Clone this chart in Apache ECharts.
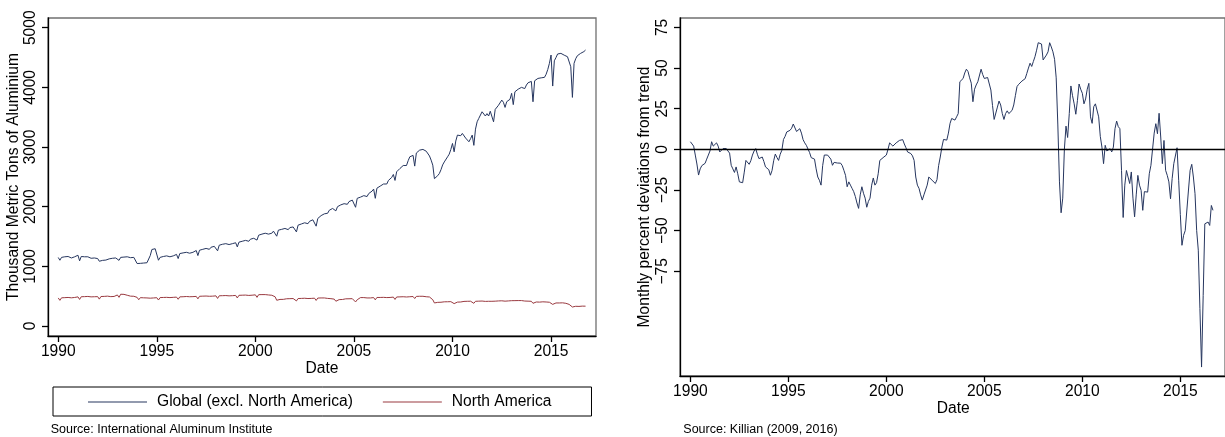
<!DOCTYPE html>
<html>
<head>
<meta charset="utf-8">
<script src="https://cdn.jsdelivr.net/npm/echarts/dist/echarts.min.js"></script>
<style>
html,body{margin:0;padding:0;background:#fff;}
#chart{width:1225px;height:437px;}
</style>
</head>
<body>
<div id="chart"></div>
<script>
// ---- DATA (monthly, starting January 1990) ----
const startYear = 1990;

// Thousand metric tons, global excl. North America (Jan 1990 - Oct 2016)
const globalExNA = [
  1148, 1102, 1150, 1140, 1160, 1145, 1165, 1160, 1140, 1170, 1160, 1180,
  1186, 1092, 1165, 1150, 1160, 1145, 1160, 1155, 1135, 1150, 1140, 1150,
  1130, 1085, 1105, 1100, 1115, 1105, 1125, 1125, 1110, 1135, 1125, 1140,
  1145, 1100, 1150, 1140, 1155, 1145, 1160, 1160, 1145, 1165, 1150, 1160,
  1047, 1020, 1050, 1035, 1055, 1040, 1060, 1065, 1180, 1282, 1290, 1295,
  1270, 1102, 1150, 1140, 1165, 1150, 1175, 1180, 1160, 1190, 1175, 1200,
  1200, 1130, 1214, 1205, 1225, 1210, 1235, 1240, 1220, 1250, 1235, 1260,
  1265, 1180, 1270, 1260, 1285, 1270, 1300, 1305, 1285, 1320, 1300, 1335,
  1340, 1260, 1354, 1345, 1370, 1355, 1380, 1385, 1365, 1395, 1380, 1405,
  1395, 1326, 1405, 1395, 1420, 1405, 1435, 1440, 1420, 1455, 1440, 1470,
  1500, 1440, 1522, 1510, 1540, 1525, 1555, 1560, 1540, 1570, 1555, 1590,
  1600, 1505, 1606, 1595, 1620, 1600, 1635, 1640, 1615, 1650, 1625, 1660,
  1680, 1577, 1690, 1680, 1710, 1695, 1730, 1740, 1715, 1755, 1740, 1780,
  1790, 1673, 1802, 1810, 1850, 1829, 1880, 1913, 1890, 1940, 1925, 1970,
  1990, 1930, 2000, 1985, 2030, 2010, 2050, 2060, 2040, 2085, 2070, 2110,
  2130, 1990, 2140, 2125, 2160, 2145, 2185, 2195, 2170, 2220, 2210, 2260,
  2295, 2140, 2310, 2300, 2345, 2330, 2380, 2400, 2380, 2440, 2430, 2490,
  2540, 2440, 2585, 2575, 2640, 2625, 2690, 2715, 2690, 2770, 2836, 2820,
  2860, 2680, 2900, 2880, 2948, 2920, 2960, 2976, 2930, 2900, 2850, 2780,
  2696, 2470, 2456, 2520, 2556, 2620, 2700, 2750, 2760, 2836, 2880, 2960,
  3060, 2920, 3100, 3200, 3220, 3190, 3228, 3210, 3150, 3160, 3088, 3140,
  3200, 3028, 3300, 3423, 3480, 3500, 3591, 3570, 3520, 3560, 3520, 3600,
  3620, 3423, 3631, 3650, 3700, 3720, 3787, 3750, 3664, 3760, 3740, 3800,
  3900, 3711, 3926, 3940, 3970, 3955, 4000, 4020, 3980, 4040, 4077, 4090,
  4100, 3759, 4111, 4120, 4150, 4130, 4160, 4180, 4168, 4220, 4300, 4403,
  4542, 4022, 4446, 4500, 4560, 4540, 4570, 4575, 4540, 4560, 4514, 4500,
  4346, 3832, 4403, 4480, 4530, 4510, 4570, 4590, 4600, 4626
];

// Thousand metric tons, North America (Jan 1990 - Oct 2016)
const northAmerica = [
  470, 430, 472, 465, 475, 470, 478, 480, 472, 482, 478, 485,
  488, 445, 490, 485, 492, 488, 495, 494, 488, 495, 490, 496,
  492, 450, 494, 488, 496, 492, 500, 498, 492, 500, 495, 505,
  520, 480, 532, 525, 530, 520, 515, 510, 500, 505, 498, 500,
  480, 440, 475, 468, 472, 465, 470, 472, 466, 474, 470, 476,
  474, 435, 476, 470, 478, 472, 480, 482, 476, 484, 480, 486,
  484, 448, 488, 484, 490, 486, 494, 495, 490, 496, 492, 498,
  496, 455, 498, 494, 500, 496, 502, 504, 498, 505, 500, 506,
  505, 462, 506, 500, 508, 504, 510, 512, 505, 514, 508, 515,
  512, 470, 514, 508, 516, 510, 518, 520, 512, 522, 516, 524,
  522, 480, 525, 518, 526, 520, 526, 528, 520, 525, 515, 512,
  490, 431, 450, 445, 452, 446, 455, 456, 448, 458, 452, 460,
  458, 420, 460, 455, 462, 456, 465, 466, 460, 468, 462, 470,
  466, 428, 468, 462, 470, 464, 470, 468, 462, 466, 458, 462,
  450, 415, 448, 442, 450, 444, 452, 455, 448, 456, 450, 458,
  430, 403, 440, 468, 476, 470, 476, 478, 470, 476, 470, 478,
  476, 438, 478, 472, 478, 472, 480, 482, 476, 484, 478, 486,
  484, 445, 486, 482, 488, 484, 490, 492, 486, 494, 490, 496,
  494, 460, 496, 492, 498, 494, 498, 496, 490, 492, 486, 480,
  440, 386, 400, 396, 402, 398, 404, 405, 398, 406, 400, 408,
  404, 375, 406, 400, 408, 402, 410, 412, 405, 414, 408, 415,
  412, 380, 414, 408, 416, 410, 418, 420, 412, 420, 414, 418,
  414, 385, 416, 410, 420, 414, 422, 424, 416, 426, 420, 428,
  424, 392, 425, 418, 426, 420, 426, 425, 418, 424, 416, 420,
  414, 380, 410, 402, 408, 400, 404, 405, 396, 402, 395, 398,
  392, 362, 392, 386, 392, 386, 390, 388, 380, 380, 370, 362,
  340, 318, 335, 330, 334, 328, 332, 333, 330, 332
];

// Monthly percent deviations from trend (Killian index), Jan 1990 - Sep 2016
const deviations = [
  4.7, 3.5, 2, -3.5, -9, -15.8, -12, -10, -11, -8.6, -6, -3.5,
  -1, 4.7, 2, 3, 4, 2, -1.6, -0.5, 0.5, 1.4, 0.5, -1,
  -2.3, -9.8, -12, -14.2, -10.8, -15, -20, -20.5, -20.5, -14, -6.8, -7,
  -9.2, -7, -3.5, -1, 0.5, -3, -5.7, -5, -4.7, -7.5, -10.8, -11.5,
  -12.5, -15.9, -13, -7, -2.9, -5, -6.8, -3, -0.6, 6.1, 8, 10.7,
  11, 11.7, 13, 15.6, 15.6, 11, 10.7, 12.7, 10, 6, 4, 2.5,
  1.4, -2, -5.1, -4.7, -6, -12, -17, -19, -22, -10, -3.5, -4,
  -3.5, -4, -6, -9.8, -8, -8.4, -8.4, -9.2, -8.5, -10, -12.9, -16,
  -23, -20, -22, -24, -26, -29, -33, -36.3, -28, -23, -27, -30,
  -35.6, -32, -30, -22, -17.6, -22, -20.5, -15, -6.8, -6, -5.1, -4.5,
  -3.5, 0, 4, 3, 2, 3, 4, 4.7, 5.5, 6.1, 6, 3.3,
  1, -1.6, -2, -2.6, -4, -6.8, -17, -22, -24, -28, -31.2, -28,
  -25, -22, -17, -18, -19, -20, -21, -18.6, -10, -4.7, 1.4, 6.1,
  6, 5.7, 10, 16, 19, 18.5, 18, 20, 22, 41.6, 42.5, 43.6,
  47, 49.3, 47.9, 44, 40.7, 29.3, 37, 39.6, 41.6, 41, 49.3, 46,
  43.6, 43, 44.2, 44, 36.5, 27, 18.4, 18, 26, 29.7, 27.3, 22,
  18.4, 22, 23.7, 22, 21, 24, 27.3, 33, 38.6, 40, 41, 42,
  43, 43.5, 46.7, 50, 53, 51, 54, 57, 61, 65.6, 65.5, 64.8,
  55, 56, 58, 60, 65.6, 63, 60, 55.4, 44, 15, -20, -39,
  -30, 0, 14.3, 7.3, 22, 39, 33, 28, 21.6, 30, 40.2, 37,
  34.5, 28, 31, 37, 40.6, 20, 16, 26.3, 28, 27, 20, 8,
  1.4, -8.8, 2.5, -1, -1.5, 0.4, -1.6, 1.4, 12.7, 17.4, 14, 12.7,
  -12.9, -41.9, -22, -13, -14, -21, -13.9, -30, -41.5, -28, -16, -22,
  -25.2, -37.5, -26, -25.2, -26.3, -15, -9.8, -10.8, 10, 15.8, 9.6, 22.2,
  7.6, -8.8, 5.5, -12.9, -16, -20, -30.4, -18, -8.8, -8.8, 1, -19,
  -40, -59, -52.9, -50, -49.8, -25, -12.9, -9.2, -17, -27.3, -49.8, -62,
  -98, -133.9, -90, -45.8, -45, -44.7, -46.8, -34.5, -37.5
];

const xTicks = [1990, 1995, 2000, 2005, 2010, 2015];
const leftYTicks = [0, 1000, 2000, 3000, 4000, 5000];
const rightYTicks = [-75, -50, -25, 0, 25, 50, 75];

const seriesNames = ['Global (excl. North America)', 'North America'];
const leftYTitle = 'Thousand Metric Tons of Aluminium';
const rightYTitle = 'Monthly percent deviations from trend';
const xTitle = 'Date';
const leftSource = 'Source: International Aluminum Institute';
const rightSource = 'Source: Killian (2009, 2016)';

// ---- CHART ----
const FONT = '"Liberation Sans", Arial, Helvetica, sans-serif';
const NAVY = '#26365f';
const MAROON = '#9a3a40';
const FS = 15.6;

function toPairs(arr) { return arr.map((v, i) => [startYear + i / 12, v]); }

function xAxisCfg(gi, min, max) {
  return {
    type: 'value', gridIndex: gi, min: min, max: max,
    axisLine: { show: true, onZero: false, lineStyle: { color: '#000', width: 1.3 } },
    axisTick: { show: true, customValues: xTicks, length: 6, lineStyle: { color: '#000', width: 1.3 } },
    axisLabel: { customValues: xTicks, fontSize: FS, fontFamily: FONT, color: '#000', margin: 8,
      formatter: v => String(Math.round(v)) },
    splitLine: { show: false }
  };
}
function yAxisCfg(gi, min, max, ticks) {
  return {
    type: 'value', gridIndex: gi, min: min, max: max,
    axisLine: { show: true, onZero: false, lineStyle: { color: '#000', width: 1.3 } },
    axisTick: { show: true, customValues: ticks, length: 6, lineStyle: { color: '#000', width: 1.3 } },
    axisLabel: { customValues: ticks, rotate: 90, fontSize: FS, fontFamily: FONT, color: '#000', margin: 9,
      formatter: v => String(Math.round(v)).replace('-', '\u2212') },
    splitLine: { show: false }
  };
}
function txt(text, x, y, opts) {
  return Object.assign({
    type: 'text', x: x, y: y, silent: true,
    style: Object.assign({ text: text, fontSize: FS, fontFamily: FONT, fill: '#000',
      textAlign: 'center', textVerticalAlign: 'middle', align: 'center', verticalAlign: 'middle' }, opts && opts.style)
  }, opts && opts.el);
}

const chart = echarts.init(document.getElementById('chart'), null, { renderer: 'canvas' });
chart.setOption({
  animation: false,
  backgroundColor: '#fff',
  grid: [
    { left: 48, top: 18, width: 548, height: 318, show: true, borderColor: '#707070', borderWidth: 1.3 },
    { left: 680, top: 18, width: 550, height: 358, show: true, borderColor: '#707070', borderWidth: 1.3 }
  ],
  xAxis: [ xAxisCfg(0, 1989.48, 2017.28), xAxisCfg(1, 1989.47, 2017.28) ],
  yAxis: [ yAxisCfg(0, -168, 5163, leftYTicks), yAxisCfg(1, -139.4, 80.8, rightYTicks) ],
  legend: {
    data: seriesNames, left: 53, top: 387, orient: 'horizontal',
    icon: 'rect', itemWidth: 59, itemHeight: 1, itemGap: 30,
    padding: [7, 40, 6, 35], borderColor: '#000', borderWidth: 1,
    textStyle: { fontSize: FS, fontFamily: FONT, color: '#000', padding: [0, 0, 0, 5] },
    selectedMode: false
  },
  series: [
    { type: 'line', name: seriesNames[0], xAxisIndex: 0, yAxisIndex: 0, data: toPairs(globalExNA),
      symbol: 'none', lineStyle: { color: NAVY, width: 1 }, itemStyle: { color: NAVY }, emphasis: { disabled: true } },
    { type: 'line', name: seriesNames[1], xAxisIndex: 0, yAxisIndex: 0, data: toPairs(northAmerica),
      symbol: 'none', lineStyle: { color: MAROON, width: 1 }, itemStyle: { color: MAROON }, emphasis: { disabled: true } },
    { type: 'line', name: 'Deviation', xAxisIndex: 1, yAxisIndex: 1, data: toPairs(deviations),
      symbol: 'none', lineStyle: { color: NAVY, width: 1 }, itemStyle: { color: NAVY }, emphasis: { disabled: true },
      markLine: { silent: true, symbol: ['none', 'none'], label: { show: false },
        lineStyle: { color: '#000', width: 1.3, type: 'solid' }, data: [{ yAxis: 0 }] } }
  ],
  graphic: [
    txt(leftYTitle, 13.5, 177, { el: { rotation: Math.PI / 2 } }),
    txt(rightYTitle, 644.5, 197, { el: { rotation: Math.PI / 2 } }),
    txt(xTitle, 322, 368.5),
    txt(xTitle, 953.3, 408.5),
    txt(leftSource, 50.7, 429.7, { style: { fontSize: 12.5, textAlign: 'left', align: 'left' } }),
    txt(rightSource, 683.3, 429.7, { style: { fontSize: 12.5, textAlign: 'left', align: 'left' } })
  ]
});
</script>
</body>
</html>
